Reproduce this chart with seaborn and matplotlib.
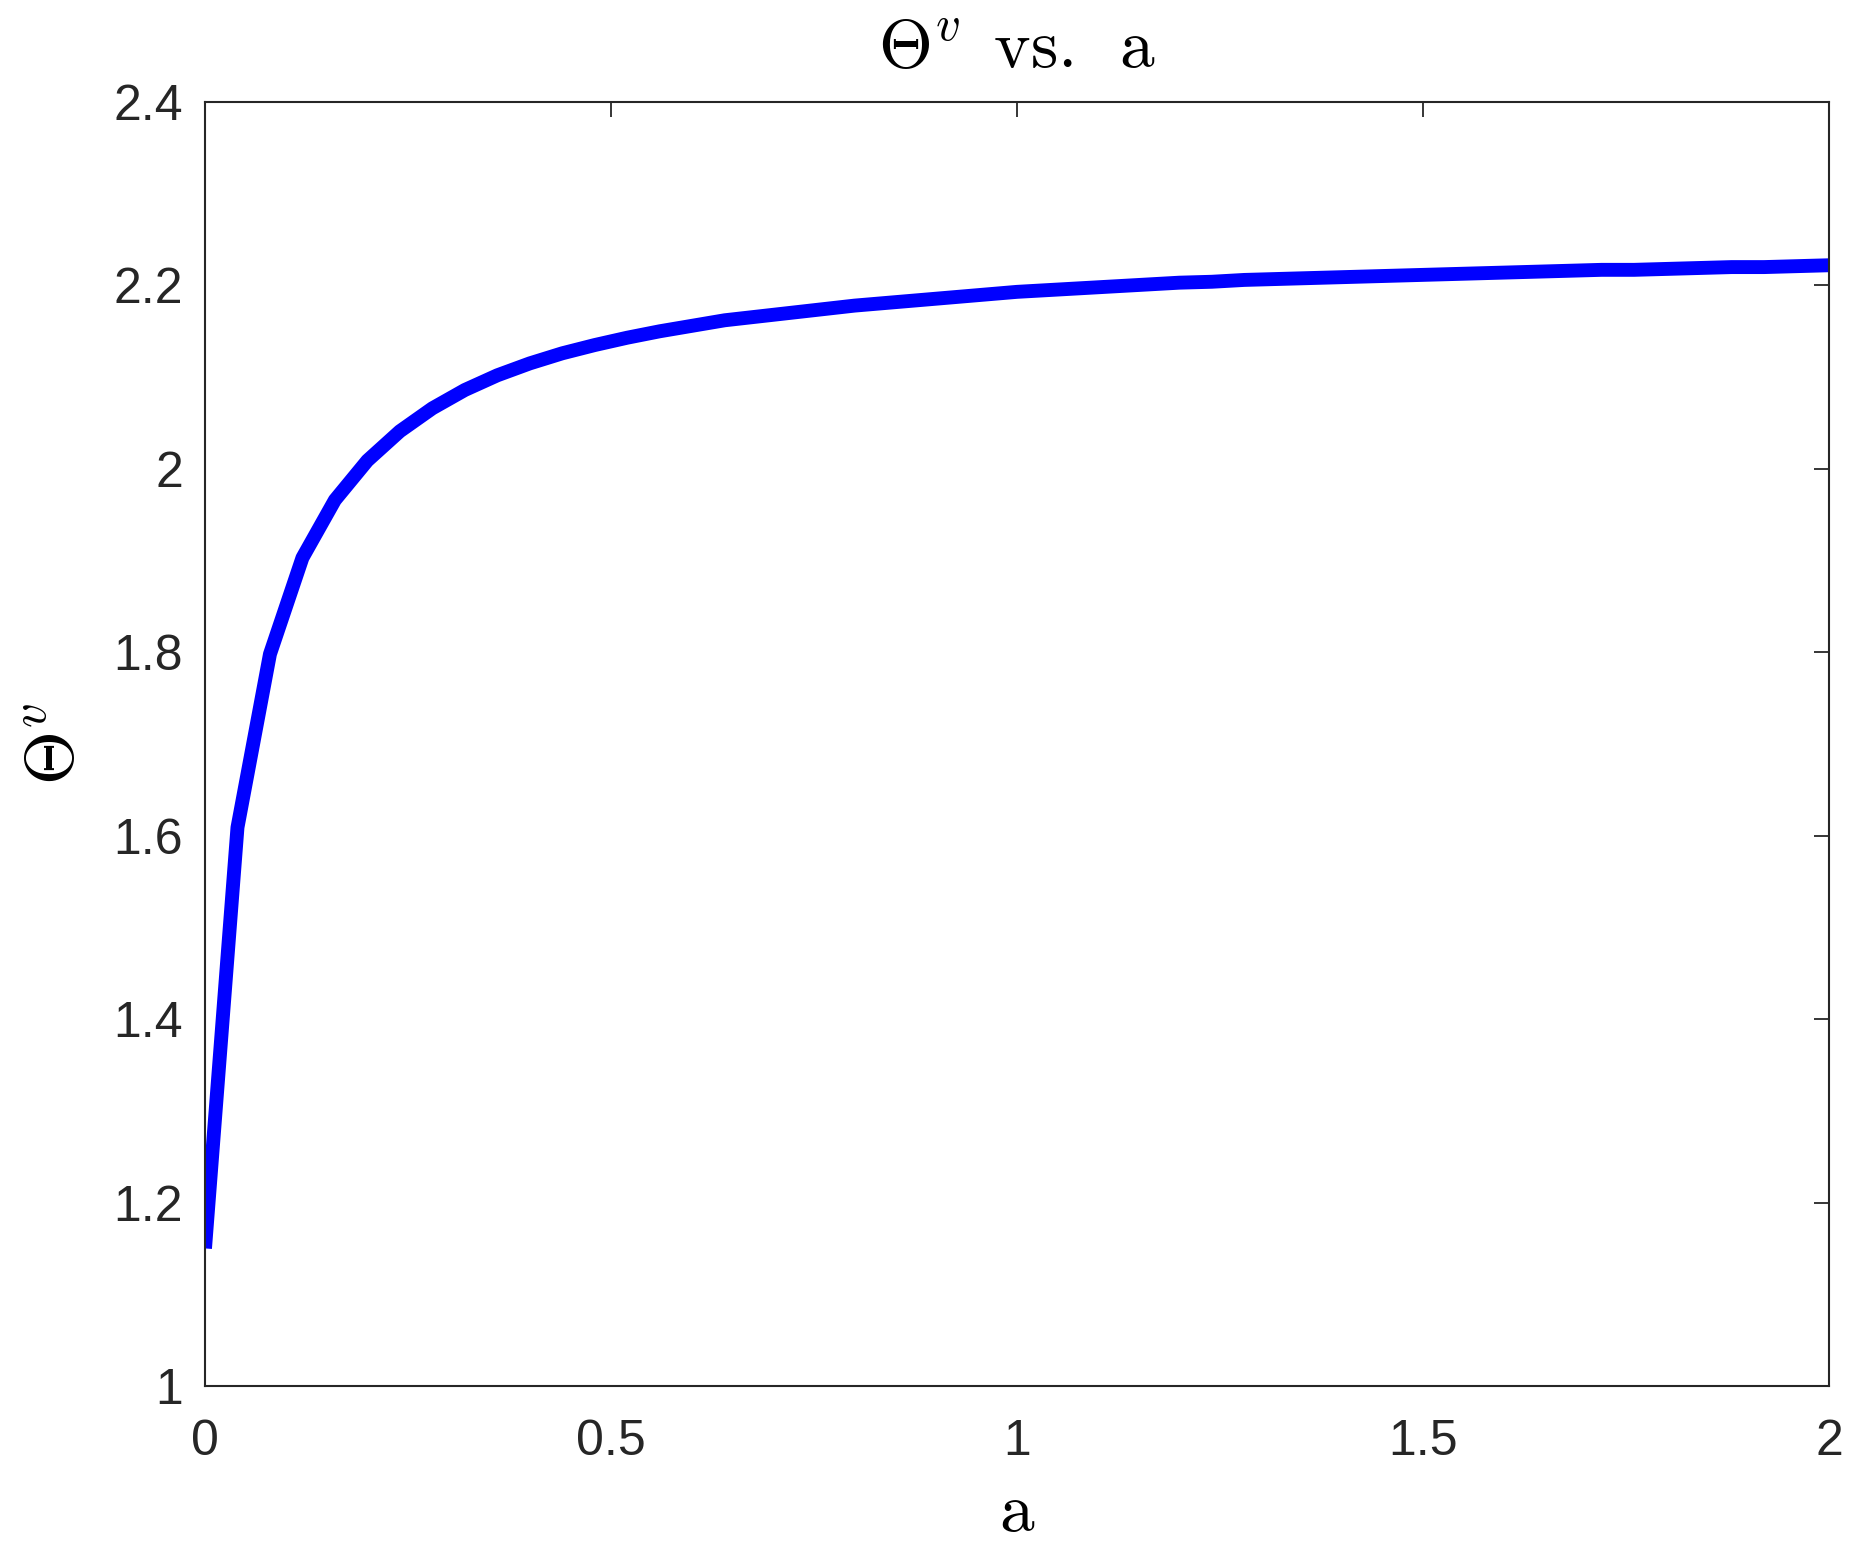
import matplotlib
matplotlib.use("Agg")
import matplotlib.pyplot as plt
import seaborn as sns
import pandas as pd

# ---- data ----
a_values = [0.00, 0.04, 0.08, 0.12, 0.16, 0.20, 0.24, 0.28, 0.32, 0.36,
            0.40, 0.44, 0.48, 0.52, 0.56, 0.60, 0.64, 0.68, 0.72, 0.76,
            0.80, 0.84, 0.88, 0.92, 0.96, 1.00, 1.04, 1.08, 1.12, 1.16,
            1.20, 1.24, 1.28, 1.32, 1.36, 1.40, 1.44, 1.48, 1.52, 1.56,
            1.60, 1.64, 1.68, 1.72, 1.76, 1.80, 1.84, 1.88, 1.92, 1.96,
            2.00]
theta_values = [1.150, 1.609, 1.798, 1.903, 1.966, 2.009, 2.041, 2.066, 2.086, 2.102,
                2.115, 2.126, 2.135, 2.143, 2.150, 2.156, 2.162, 2.166, 2.170, 2.174,
                2.178, 2.181, 2.184, 2.187, 2.190, 2.193, 2.195, 2.197, 2.199, 2.201,
                2.203, 2.204, 2.206, 2.207, 2.208, 2.209, 2.210, 2.211, 2.212, 2.213,
                2.214, 2.215, 2.216, 2.217, 2.217, 2.218, 2.219, 2.220, 2.220, 2.221,
                2.222]
x_ticks = [0, 0.5, 1, 1.5, 2]
x_tick_labels = ["0", "0.5", "1", "1.5", "2"]
y_ticks = [1, 1.2, 1.4, 1.6, 1.8, 2, 2.2, 2.4]
y_tick_labels = ["1", "1.2", "1.4", "1.6", "1.8", "2", "2.2", "2.4"]
title_text = r"$\Theta^{v}\ \,\mathrm{vs.}\ \,\mathrm{a}$"
x_label = r"$\mathrm{a}$"
y_label = r"$\Theta^{v}$"

sns.set_style("white")
plt.rcParams["font.family"] = ["Liberation Sans", "DejaVu Sans"]
plt.rcParams["mathtext.fontset"] = "cm"

fig = plt.figure(figsize=(18.57, 15.53), dpi=100)
ax = fig.add_axes([205 / 1857, 1 - 1386 / 1553, 1624 / 1857, 1284 / 1553])

df = pd.DataFrame({"a": a_values, "theta": theta_values})
sns.lineplot(data=df, x="a", y="theta", ax=ax, color=(0, 0, 1), linewidth=10,
             solid_capstyle="butt", solid_joinstyle="round")

ax.set_xlim(0, 2)
ax.set_ylim(1, 2.4)
ax.set_xticks(x_ticks)
ax.set_xticklabels(x_tick_labels)
ax.set_yticks(y_ticks)
ax.set_yticklabels(y_tick_labels)

ax.tick_params(direction="in", length=10.8, width=1.3, top=True, right=True,
               labelsize=36, colors="#262626")
ax.tick_params(axis="x", pad=24)
ax.tick_params(axis="y", pad=16)
for s in ax.spines.values():
    s.set_visible(True)
    s.set_color("#262626")
    s.set_linewidth(1.5)

ax.set_title(title_text, fontsize=50, pad=25, color="black")
ax.set_xlabel(x_label, fontsize=50, color="black")
ax.set_ylabel(y_label, fontsize=50, color="black")
ax.xaxis.set_label_coords(0.5, -0.074)
ax.yaxis.set_label_coords(-0.072, 0.5)

fig.savefig("out.png", dpi=100)
